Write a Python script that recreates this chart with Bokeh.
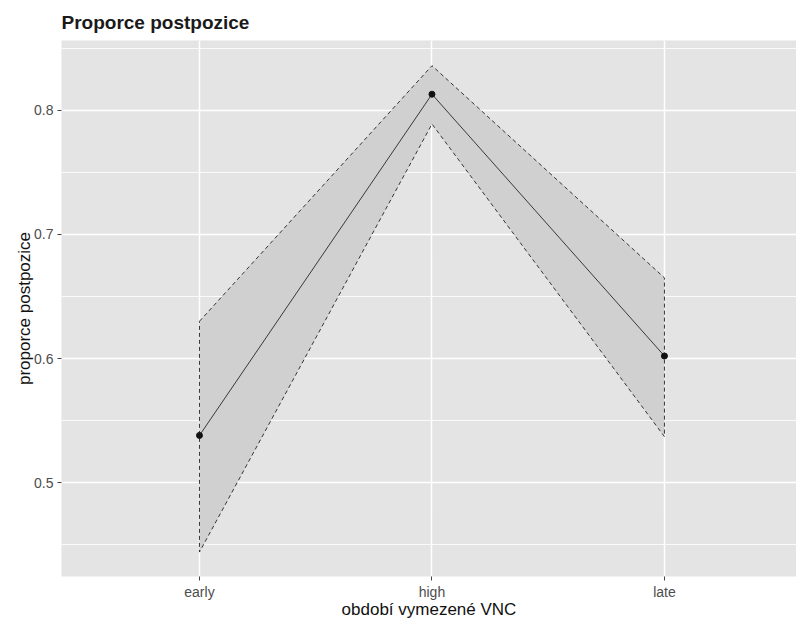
from bokeh.plotting import figure
from bokeh.models import FixedTicker, Range1d, ColumnDataSource
from bokeh.embed import file_html
from bokeh.resources import INLINE

# ---- data ----
periods = ["early", "high", "late"]
prop_mean = [0.538, 0.813, 0.602]
prop_lower = [0.444, 0.789, 0.537]
prop_upper = [0.630, 0.836, 0.665]
y_ticks = [0.5, 0.6, 0.7, 0.8]
y_minor = [0.45, 0.55, 0.65, 0.75, 0.85]

x = list(range(1, len(periods) + 1))

FONT = "Liberation Sans"
PANEL = "#E4E4E4"

p = figure(width=796, height=621, output_backend="svg", toolbar_location=None,
           x_range=Range1d(0.4065, 3.568), y_range=Range1d(0.4243, 0.8563),
           min_border_left=61, min_border_right=0, min_border_top=40, min_border_bottom=44,
           background_fill_color=PANEL, border_fill_color="white", outline_line_color=None)

p.title.text = "Proporce postpozice"
p.title.text_font = FONT
p.title.text_font_size = "19px"
p.title.text_font_style = "bold"
p.title.text_color = "#1a1a1a"
p.title.align = "left"
p.title.offset = 0
p.title.standoff = 16

# ribbon polygon
poly_x = x + x[::-1]
poly_y = prop_upper + prop_lower[::-1]
p.patch(poly_x, poly_y, fill_color="#D0D0D0", fill_alpha=1.0,
        line_color="#222222", line_width=0.9, line_dash="4 3")

src = ColumnDataSource(dict(x=x, y=prop_mean))
p.line("x", "y", source=src, line_color="#111111", line_width=0.8)
p.scatter("x", "y", source=src, size=6, fill_color="#111111", line_color="#111111")

# axes
p.xaxis.ticker = FixedTicker(ticks=x)
p.xaxis.major_label_overrides = {xi: lab for xi, lab in zip(x, periods)}
p.yaxis.ticker = FixedTicker(ticks=y_ticks, minor_ticks=y_minor)
p.yaxis.major_label_overrides = {t: f"{t:.1f}" for t in y_ticks}

for ax in (p.xaxis[0], p.yaxis[0]):
    ax.axis_line_color = None
    ax.major_tick_line_color = "#444444"
    ax.major_tick_out = 4
    ax.major_tick_in = 0
    ax.minor_tick_line_color = None
    ax.major_label_text_font = FONT
    ax.major_label_text_font_size = "14px"
    ax.major_label_text_color = "#4D4D4D"
    ax.axis_label_text_font = FONT
    ax.axis_label_text_font_size = "17px"
    ax.axis_label_text_font_style = "normal"
    ax.axis_label_text_color = "#111111"

p.xaxis.axis_label = "období vymezené VNC"
p.yaxis.axis_label = "proporce postpozice"
p.xaxis.major_label_standoff = 3
p.xaxis.axis_label_standoff = -3
p.yaxis.major_label_standoff = 4
p.yaxis.axis_label_standoff = -3

p.xgrid.ticker = FixedTicker(ticks=x)
p.ygrid.ticker = FixedTicker(ticks=y_ticks, minor_ticks=y_minor)
p.grid.grid_line_color = "white"
p.grid.grid_line_width = 1.5
p.ygrid.minor_grid_line_color = "white"
p.ygrid.minor_grid_line_width = 0.8

open("out.html", "w").write(file_html(p, INLINE))
